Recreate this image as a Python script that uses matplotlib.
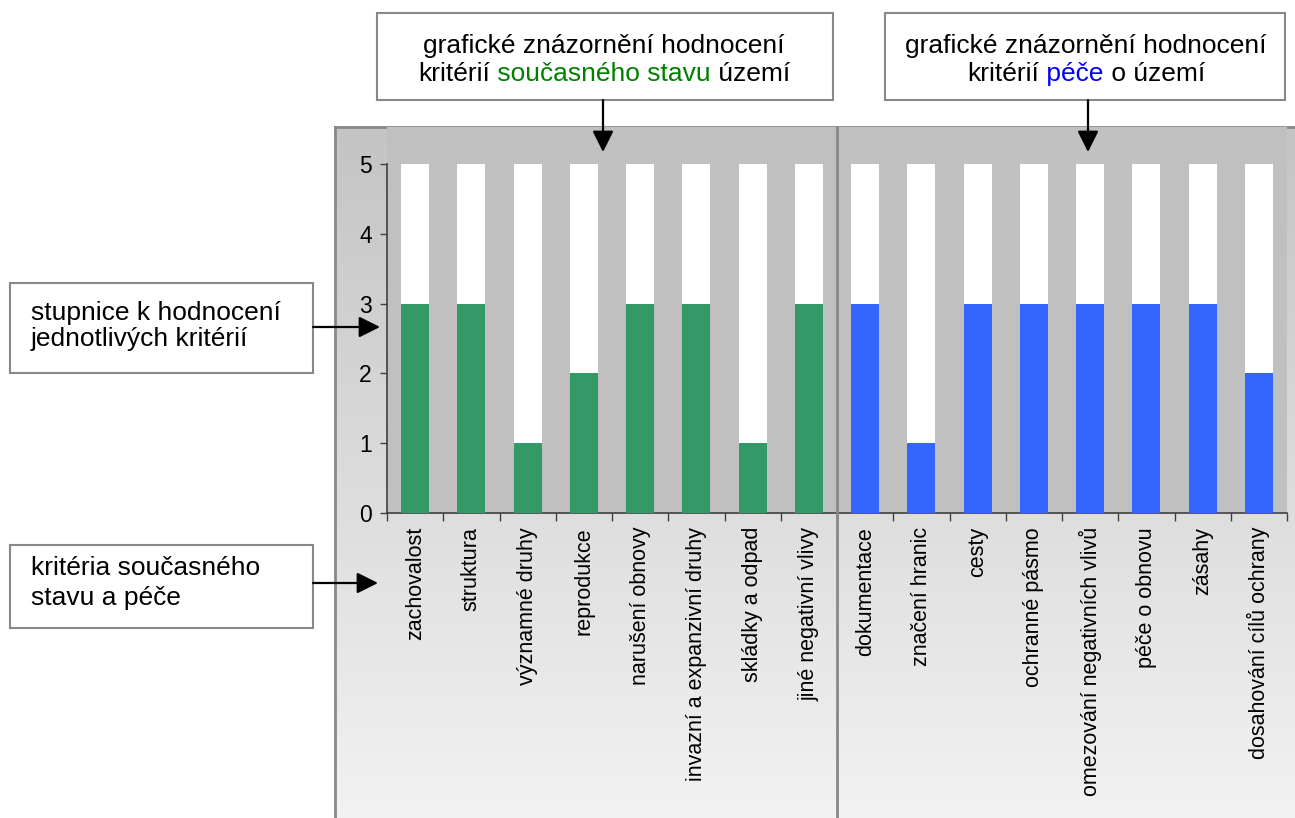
import numpy as np
import matplotlib
matplotlib.use('Agg')
import matplotlib.pyplot as plt
from matplotlib.colors import LinearSegmentedColormap
from matplotlib.patches import Rectangle

plt.rcParams['font.family'] = ['Liberation Sans', 'DejaVu Sans']

# data
cats_stav = ['zachovalost', 'struktura', 'významné druhy', 'reprodukce',
             'narušení obnovy', 'invazní a expanzivní druhy', 'skládky a odpad',
             'jiné negativní vlivy']
vals_stav = [3, 3, 1, 2, 3, 3, 1, 3]
cats_pece = ['dokumentace', 'značení hranic', 'cesty', 'ochranné pásmo',
             'omezování negativních vlivů', 'péče o obnovu', 'zásahy',
             'dosahování cílů ochrany']
vals_pece = [3, 1, 3, 3, 3, 3, 3, 2]
scale_max = 5
y_ticks = [0, 1, 2, 3, 4, 5]

W, H = 1295, 818
fs = 15.5   # popisky os
fs_box = 19  # texty v rámečcích

fig = plt.figure(figsize=(W / 100, H / 100), dpi=100)

# pozadí panelu s přechodem
bg = fig.add_axes([0, 0, 1, 1], zorder=0)
bg.set_xlim(0, W)
bg.set_ylim(H, 0)
bg.axis('off')
grad = np.linspace(0, 1, 200).reshape(-1, 1)
cmap = LinearSegmentedColormap.from_list('g', ['#c4c4c4', '#f2f2f2'])
bg.imshow(grad, cmap=cmap, aspect='auto', extent=[335, W + 5, H, 127], zorder=0)
bg.plot([335, 335], [H, 127], color='#888888', lw=2, zorder=1)
bg.plot([335, W], [127, 127], color='#888888', lw=2, zorder=1)

# hlavní graf
ax = fig.add_axes([387 / W, 1 - 513 / H, 900 / W, 386 / H], zorder=1)
ax.set_facecolor('#c0c0c0')
n = len(cats_stav) + len(cats_pece)
x = np.arange(n)
ax.bar(x, [scale_max] * n, width=0.5, color='white', zorder=2)
ax.bar(x[:len(cats_stav)], vals_stav, width=0.5, color='#339966', zorder=3)
ax.bar(x[len(cats_stav):], vals_pece, width=0.5, color='#3366ff', zorder=3)
ax.set_xlim(-0.5, n - 0.5)
ax.set_ylim(0, 5.53)
for s in ['top', 'right']:
    ax.spines[s].set_visible(False)
ax.spines['left'].set_bounds(0, 5)
for s in ['left', 'bottom']:
    ax.spines[s].set_color('#404040')
    ax.spines[s].set_linewidth(1.2)
ax.set_yticks(y_ticks)
ax.tick_params(axis='y', length=5, width=1, color='#404040', pad=6, labelsize=fs + 1)
ax.set_xticks(np.arange(n + 1) - 0.5)
ax.set_xticklabels([])
ax.tick_params(axis='x', which='major', length=6, width=1, color='#404040')
ax.set_xticks(x, cats_stav + cats_pece, minor=True, rotation=90)
ax.tick_params(axis='x', which='minor', length=0, pad=10, labelsize=fs)
for t in ax.get_xticklabels(minor=True):
    t.set_va('top')

# popisky a šipky
fg = fig.add_axes([0, 0, 1, 1], zorder=2)
fg.set_xlim(0, W)
fg.set_ylim(H, 0)
fg.axis('off')
fg.patch.set_alpha(0)

fg.plot([837, 837], [127, H], color='#888888', lw=2)


def box(x0, y0, x1, y1):
    fg.add_patch(Rectangle((x0, y0), x1 - x0, y1 - y0, facecolor='white',
                           edgecolor='#888888', lw=1.5))


def arrow(x0, y0, x1, y1):
    fg.annotate('', xy=(x1, y1), xytext=(x0, y0),
                arrowprops=dict(arrowstyle='-|>', color='black', lw=1.6,
                                mutation_scale=32, shrinkA=0, shrinkB=0))


lines = []


def colored_line(xc, y, parts):
    prev = None
    items = []
    for s, c in parts:
        if prev is None:
            t = fg.text(xc, y, s, color=c, fontsize=fs_box, ha='left', va='baseline')
        else:
            t = fg.annotate(s, xy=(1, 0), xycoords=prev, color=c, fontsize=fs_box,
                            ha='left', va='bottom')
        items.append(t)
        prev = t
    lines.append((xc, items))


box(377, 13, 833, 100)
colored_line(604, 53, [('grafické znázornění hodnocení', 'black')])
colored_line(604, 81, [('kritérií', 'black'), (' současného stavu', '#008000'),
                       (' území', 'black')])
arrow(603, 100, 603, 152)

box(885, 13, 1285, 100)
colored_line(1086, 53, [('grafické znázornění hodnocení', 'black')])
colored_line(1086, 81, [('kritérií', 'black'), (' péče', '#0000ff'),
                        (' o území', 'black')])
arrow(1088, 100, 1088, 152)

box(10, 283, 313, 373)
fg.text(31, 320, 'stupnice k hodnocení', fontsize=fs_box, va='baseline')
fg.text(31, 346, 'jednotlivých kritérií', fontsize=fs_box, va='baseline')
arrow(313, 327, 380, 327)

box(10, 545, 313, 628)
fg.text(31, 575, 'kritéria současného', fontsize=fs_box, va='baseline')
fg.text(31, 605, 'stavu a péče', fontsize=fs_box, va='baseline')
arrow(313, 583, 378, 583)

# vycentrování barevných řádků
fig.canvas.draw()
r = fig.canvas.get_renderer()
for xc, items in lines:
    x0 = items[0].get_window_extent(r).x0
    x1 = items[-1].get_window_extent(r).x1
    items[0].set_x(xc - (x1 - x0) / 2)

fig.savefig('out.png', dpi=100)
